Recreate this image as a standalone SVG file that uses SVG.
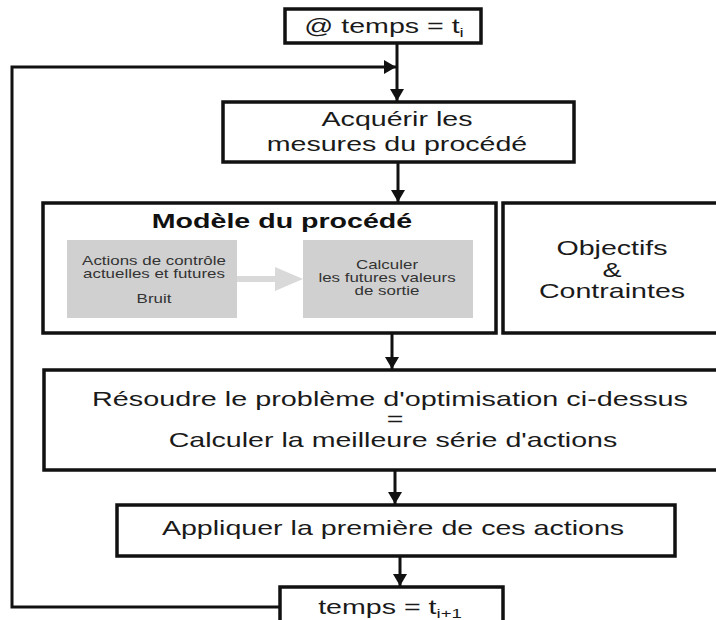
<svg xmlns="http://www.w3.org/2000/svg" width="716" height="620" viewBox="0 0 716 620">
  <style>
    .box { fill: #ffffff; stroke: #111111; stroke-width: 3.5; }
    .gray { fill: #d0d0d0; stroke: none; }
    .wire { fill: none; stroke: #111111; stroke-width: 3; }
    .txt { font-family: "Liberation Sans", Arial, sans-serif; font-size: 20px; fill: #1a1a1a; text-anchor: middle; }
    .bold { font-weight: bold; fill: #111111; }
    .small { font-size: 12px; fill: #333333; }
    .sub { font-size: 13px; }
  </style>
  <defs>
    <marker id="head" markerUnits="userSpaceOnUse" markerWidth="14" markerHeight="14" refX="12" refY="7" orient="auto">
      <path d="M0,0 L12,7 L0,14 z" fill="#111111"/>
    </marker>
  </defs>

  <!-- connectors -->
  <g id="connectors">
    <path class="wire" d="M397,43 V101" marker-end="url(#head)"/>
    <path class="wire" d="M281,607 H12 V67 H396" marker-end="url(#head)"/>
    <path class="wire" d="M398,162 V202" marker-end="url(#head)"/>
    <path class="wire" d="M392,333 V369" marker-end="url(#head)"/>
    <path class="wire" d="M395,470 V504" marker-end="url(#head)"/>
    <path class="wire" d="M400,556 V586" marker-end="url(#head)"/>
  </g>

  <!-- start time -->
  <g id="start">
    <rect class="box" x="285" y="9" width="196" height="34"/>
    <text class="txt" transform="translate(384,0) scale(1.43,1)" y="33">@ temps = t<tspan class="sub" dy="4">i</tspan></text>
  </g>

  <!-- measurement acquisition -->
  <g id="acquire">
    <rect class="box" x="223" y="102" width="351" height="60"/>
    <text class="txt" transform="translate(397,0) scale(1.43,1)" y="126">Acquérir les</text>
    <text class="txt" transform="translate(397,0) scale(1.43,1)" y="151">mesures du procédé</text>
  </g>

  <!-- process model -->
  <g id="model">
    <rect class="box" x="43" y="203" width="453" height="130"/>
    <text class="txt bold" transform="translate(282,0) scale(1.43,1)" y="228">Modèle du procédé</text>
    <rect class="gray" x="67" y="240" width="170" height="78"/>
    <text class="txt small" transform="translate(154,0) scale(1.41,1)" y="265">Actions de contrôle</text>
    <text class="txt small" transform="translate(154,0) scale(1.41,1)" y="278">actuelles et futures</text>
    <text class="txt small" transform="translate(154,0) scale(1.41,1)" y="303">Bruit</text>
    <line x1="237" y1="279" x2="277" y2="279" stroke="#d9d9d9" stroke-width="6"/>
    <path d="M275,267 L303,279 L275,291 z" fill="#d9d9d9"/>
    <rect class="gray" x="303" y="240" width="170" height="78"/>
    <text class="txt small" transform="translate(387,0) scale(1.41,1)" y="269">Calculer</text>
    <text class="txt small" transform="translate(387,0) scale(1.41,1)" y="282">les futures valeurs</text>
    <text class="txt small" transform="translate(387,0) scale(1.41,1)" y="295">de sortie</text>
  </g>

  <!-- objectives and constraints -->
  <g id="objectives">
    <rect class="box" x="503" y="203" width="240" height="130"/>
    <text class="txt" transform="translate(612,0) scale(1.43,1)" y="255">Objectifs</text>
    <text class="txt" transform="translate(612,0) scale(1.43,1)" y="277">&amp;</text>
    <text class="txt" transform="translate(612,0) scale(1.43,1)" y="298">Contraintes</text>
  </g>

  <!-- optimisation -->
  <g id="solve">
    <rect class="box" x="44" y="370" width="700" height="100"/>
    <text class="txt" transform="translate(390,0) scale(1.44,1)" y="406">Résoudre le problème d'optimisation ci-dessus</text>
    <text class="txt" transform="translate(395,0) scale(1.43,1)" y="426">=</text>
    <text class="txt" transform="translate(393,0) scale(1.43,1)" y="447">Calculer la meilleure série d'actions</text>
  </g>

  <!-- apply first action -->
  <g id="apply">
    <rect class="box" x="117" y="505" width="558" height="51"/>
    <text class="txt" transform="translate(393,0) scale(1.43,1)" y="535">Appliquer la première de ces actions</text>
  </g>

  <!-- next time step -->
  <g id="next">
    <rect class="box" x="280" y="587" width="223" height="45"/>
    <text class="txt" transform="translate(390,0) scale(1.43,1)" y="614">temps = t<tspan class="sub" dy="4">i+1</tspan></text>
  </g>
</svg>
